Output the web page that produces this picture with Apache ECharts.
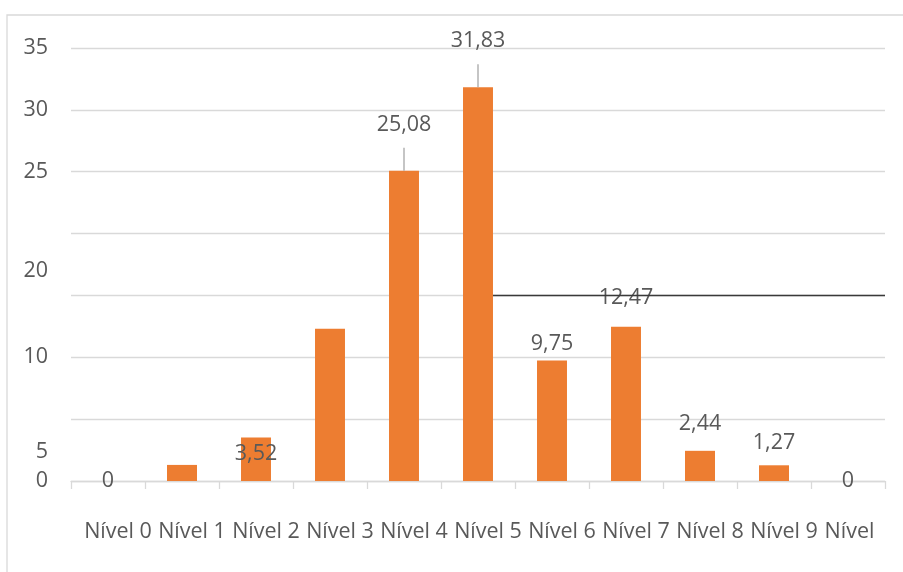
<!DOCTYPE html>
<html>
<head>
<meta charset="utf-8">
<script src="https://cdn.jsdelivr.net/npm/echarts@6/dist/echarts.min.js"></script>
<style>html,body{margin:0;padding:0;background:#fff}#c{width:903px;height:572px}</style>
</head>
<body>
<div id="c"></div>
<script>
const categories = ['Nível 0','Nível 1','Nível 2','Nível 3','Nível 4','Nível 5','Nível 6','Nível 7','Nível 8','Nível 9','Nível'];
const values = [0, 1.3, 3.52, 12.3, 25.08, 31.83, 9.75, 12.47, 2.44, 1.27, 0];
const labelTexts = ['0', '', '3,52', '', '25,08', '31,83', '9,75', '12,47', '2,44', '1,27', '0'];
const yTicks = [0, 5, 10, 15, 20, 25, 30, 35];
const hiddenTick = 15;
const lineValue = 15;

const FONT = 'Open Sans';
const FS = 21.5;
const TXT = '#595959';
// label placement per bar (style only)
const labelPlace = [
  {position:'inside'}, {show:false}, {position:'insideTop', distance:5}, {show:false},
  {position:'top', distance:35, lead:23}, {position:'top', distance:35, lead:23},
  {position:'top', distance:6}, {position:'top', distance:18}, {position:'top', distance:16},
  {position:'top', distance:11}, {position:'inside'}
];

const data = values.map((v, i) => {
  const p = labelPlace[i];
  return {
    value: v,
    label: {
      show: p.show !== false,
      position: p.position || 'top',
      distance: p.distance || 5,
      formatter: labelTexts[i],
      color: TXT, fontFamily: FONT, fontSize: FS
    }
  };
});

const chart = echarts.init(document.getElementById('c'), null, {renderer:'canvas'});
chart.setOption({
  backgroundColor: '#fff',
  animation: false,
  grid: { left: 71, right: 18, top: 48, bottom: 91 },
  xAxis: {
    type: 'category',
    data: categories,
    boundaryGap: true,
    axisLine: { lineStyle: { color: '#D9D9D9', width: 1.3 } },
    axisTick: { show: true, length: 8, interval: 0, lineStyle: { color: '#D9D9D9', width: 1.3 } },
    axisLabel: {
      interval: 0, margin: 40, color: TXT, fontFamily: FONT, fontSize: FS,
      formatter: (v, i) => i === categories.length - 1 ? '{b|' + v + '}' : '{a|' + v + '}',
      rich: {
        a: { padding: [0,0,0,20], color: TXT, fontFamily: FONT, fontSize: FS },
        b: { padding: [0,0,0,3], color: TXT, fontFamily: FONT, fontSize: FS }
      }
    }
  },
  yAxis: {
    type: 'value', min: yTicks[0], max: yTicks[yTicks.length - 1], interval: yTicks[1] - yTicks[0],
    axisLine: { show: false }, axisTick: { show: false },
    splitLine: { lineStyle: { color: '#D9D9D9', width: 1.3 } },
    axisLabel: {
      margin: 23, color: TXT, fontFamily: FONT, fontSize: FS,
      formatter: v => v === hiddenTick ? '' : v === 20 ? '{d|20}' : v === 5 ? '{e|5}' : String(v),
      rich: {
        d: { padding: [74,0,0,0], color: TXT, fontFamily: FONT, fontSize: FS },
        e: { padding: [66,0,0,0], color: TXT, fontFamily: FONT, fontSize: FS }
      }
    }
  },
  series: [{
    type: 'bar',
    data: data,
    barWidth: '40.5%',
    itemStyle: { color: '#ED7D31' }
  }]
});

function drawExtras() {
  const graphics = [
    { type:'rect', shape:{x:7, y:15, width:1000, height:1000}, style:{fill:'none', stroke:'#D9D9D9', lineWidth:1.3}, silent:true, z:-1 }
  ];
  // leader lines above labelled bars
  values.forEach((v, i) => {
    const p = labelPlace[i];
    if (!p.lead) return;
    const pt = chart.convertToPixel({gridIndex:0}, [categories[i], v]);
    graphics.push({ type:'line', shape:{x1:pt[0], y1:pt[1], x2:pt[0], y2:pt[1] - p.lead}, style:{stroke:'#A6A6A6', lineWidth:1.3}, z:50 });
  });
  // dark rule at 15 right of Nível 5
  const i5 = categories.indexOf('Nível 5');
  const c5 = chart.convertToPixel({xAxisIndex:0}, categories[i5]);
  const c6 = chart.convertToPixel({xAxisIndex:0}, categories[i5 + 1]);
  const bw = (c6 - c5) * 0.405;
  const y = chart.convertToPixel({yAxisIndex:0}, lineValue);
  const right = chart.getWidth() - 18;
  graphics.push({ type:'line', shape:{x1:c5 + bw/2, y1:y, x2:right, y2:y}, style:{stroke:'#3A3A3A', lineWidth:1.6}, z:100 });
  chart.setOption({ graphic: graphics });
}
drawExtras();
</script>
</body>
</html>
